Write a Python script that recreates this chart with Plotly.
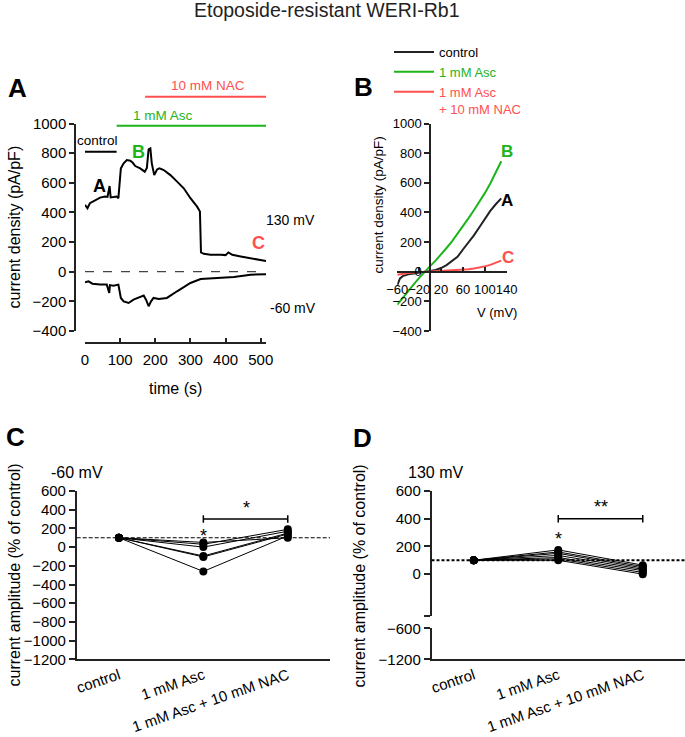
import plotly.graph_objects as go

W, H = 685, 737
FONT = "Liberation Sans, Arial, Helvetica, sans-serif"
BLACK = "#000000"
GREEN = "#1db41d"
RED = "#ff4f4f"
AX = "#222222"

# ---------------- Panel A: time course ----------------
t_130 = [0, 7, 14, 29, 43, 57, 64, 70, 73, 81, 90, 95, 102, 110, 119, 129, 136, 143, 157, 170, 176,
         181, 186, 190, 197, 205, 212, 224, 243, 262, 281, 300, 319, 327, 330, 338, 357, 386, 400,
         408, 419, 443, 471, 500, 519]
i_130 = [451, 428, 462, 484, 500, 507, 505, 578, 502, 504, 507, 496, 697, 731, 753, 749, 735, 713, 697,
         675, 700, 825, 832, 731, 652, 690, 697, 686, 652, 608, 563, 496, 439, 406, 130, 121, 114, 114,
         112, 130, 114, 103, 92, 81, 70]
t_m60 = [0, 10, 21, 43, 62, 69, 71, 81, 95, 102, 110, 124, 138, 152, 167, 174, 181, 188, 195, 210, 233,
         262, 300, 329, 376, 424, 471, 519]
i_m60 = [-72, -65, -81, -87, -87, -143, -90, -94, -87, -177, -200, -211, -188, -177, -161, -190, -233,
         -200, -177, -184, -177, -132, -76, -49, -45, -36, -20, -16]

app_names = ["control", "1 mM Asc", "10 mM NAC"]
app_start = [-14, 90, 171]
app_end = [90, 522, 531]
app_colors = [BLACK, GREEN, RED]

# ---------------- Panel B: I-V curves ----------------
v_mv = [-60, -55, -50, -40, -30, -20, -10, 0, 10, 20, 30, 40, 50, 60, 70, 80, 90, 100, 110, 120, 130]
iv_control = [-90, -45, -30, -18, -12, -8, -3, 5, 12, 25, 45, 70, 100, 150, 195, 245, 300, 355, 410, 455, 495]
iv_asc = [-222, -198, -175, -130, -85, -42, 0, 38, 75, 115, 160, 205, 255, 305, 360, 415, 470, 530, 595, 665, 745]
iv_asc_nac = [-20, -16, -13, -8, -5, -3, -1, 0, 2, 4, 6, 8, 10, 13, 17, 22, 28, 36, 46, 58, 75]

# ---------------- Panels C, D: normalized amplitudes ----------------
categories = ["control", "1 mM Asc", "1 mM Asc + 10 mM NAC"]
amp_m60 = [[100, 50, 100], [100, 30, 190], [100, 0, 170], [100, -95, 150], [100, -105, 140], [100, -260, 120]]
amp_130 = [[100, 175, 65], [100, 160, 55], [100, 150, 45], [100, 135, 35], [100, 120, 25], [100, 110, 12],
           [100, 100, 0]]
sig_c = {"y": 300, "half": 40, "label": "*", "single": "*"}
sig_d = {"y": 400, "half": 27, "label": "**", "single": "*"}


def px(x):
    return x / W


def py(y):
    return 1 - y / H


fig = go.Figure()

# Panel A traces
fig.add_trace(go.Scatter(x=t_130, y=i_130, mode="lines", line=dict(color=BLACK, width=2),
                         xaxis="x", yaxis="y", showlegend=False))
fig.add_trace(go.Scatter(x=t_m60, y=i_m60, mode="lines", line=dict(color=BLACK, width=2),
                         xaxis="x", yaxis="y", showlegend=False))

# Panel B traces
fig.add_trace(go.Scatter(x=v_mv, y=iv_control, mode="lines", line=dict(color="#222222", width=2),
                         xaxis="x2", yaxis="y2", name="control", legend="legend"))
fig.add_trace(go.Scatter(x=v_mv, y=iv_asc, mode="lines", line=dict(color=GREEN, width=2),
                         xaxis="x2", yaxis="y2",
                         name=f"<span style='color:{GREEN}'>1 mM Asc</span>", legend="legend"))
fig.add_trace(go.Scatter(x=v_mv, y=iv_asc_nac, mode="lines", line=dict(color=RED, width=2),
                         xaxis="x2", yaxis="y2",
                         name=f"<span style='color:{RED}'>1 mM Asc</span><br><span style='color:{RED}'>+ 10 mM NAC</span>",
                         legend="legend"))

# Panel C traces
xs = [0, 1, 2]
for cell in amp_m60:
    fig.add_trace(go.Scatter(x=xs, y=cell, mode="lines+markers", line=dict(color=BLACK, width=1),
                             marker=dict(color=BLACK, size=8), xaxis="x3", yaxis="y3", showlegend=False))
fig.add_trace(go.Scatter(x=[1, 1, 1, 2, 2, 2],
                         y=[sig_c["y"] - sig_c["half"], sig_c["y"] + sig_c["half"], sig_c["y"], sig_c["y"],
                            sig_c["y"] + sig_c["half"], sig_c["y"] - sig_c["half"]],
                         mode="lines", line=dict(color=BLACK, width=1.5), xaxis="x3", yaxis="y3",
                         showlegend=False))

# Panel D traces
for cell in amp_130:
    fig.add_trace(go.Scatter(x=xs, y=cell, mode="lines+markers", line=dict(color=BLACK, width=1),
                             marker=dict(color=BLACK, size=8), xaxis="x4", yaxis="y5", showlegend=False))
fig.add_trace(go.Scatter(x=[1, 1, 1, 2, 2, 2],
                         y=[sig_d["y"] - sig_d["half"], sig_d["y"] + sig_d["half"], sig_d["y"], sig_d["y"],
                            sig_d["y"] + sig_d["half"], sig_d["y"] - sig_d["half"]],
                         mode="lines", line=dict(color=BLACK, width=1.5), xaxis="x4", yaxis="y5",
                         showlegend=False))
# empty trace so the lower (broken) segment of the D axis exists as a subplot
fig.add_trace(go.Scatter(x=[None], y=[None], mode="lines", xaxis="x4", yaxis="y6", showlegend=False,
                         hoverinfo="skip"))

axbase = dict(showgrid=False, zeroline=False, showline=True, linecolor=AX, linewidth=1.5,
              tickcolor=AX, tickwidth=1.5, automargin=False)

# geometry
A_x = (85, 266)
A_y = (331, 123.5)
A_xr = [0, 515]
A_yr = [-400, 1000]
B_x = (397.3, 506.7)
B_xr = [-60, 140]

yB0 = A_y[0] + (0 - A_yr[0]) / (A_yr[1] - A_yr[0]) * (A_y[1] - A_y[0])
xB0 = B_x[0] + (0 - B_xr[0]) / (B_xr[1] - B_xr[0]) * (B_x[1] - B_x[0])

fig.update_layout(
    template="none",
    width=W, height=H, margin=dict(l=0, r=0, t=0, b=0, pad=0), autosize=False,
    paper_bgcolor="white", plot_bgcolor="rgba(0,0,0,0)",
    font=dict(family=FONT, color=BLACK, size=15),
    xaxis=dict(axbase, domain=[px(A_x[0]), px(A_x[1])], range=A_xr, anchor="free", position=py(342.7),
               tickvals=[0, 100, 200, 300, 400, 500], ticks="inside", ticklen=4, tickangle=0,
               tickfont=dict(size=15), ticklabelstandoff=4),
    yaxis=dict(axbase, domain=[py(A_y[0]), py(A_y[1])], range=A_yr, anchor="free", position=px(75),
               tickvals=list(range(-400, 1001, 200)), ticks="outside", ticklen=5, tickfont=dict(size=15)),
    xaxis2=dict(axbase, domain=[px(B_x[0]), px(B_x[1])], range=B_xr, anchor="free", position=py(yB0),
                tickvals=[-60, -20, 20, 60, 100, 140], ticks="inside", ticklen=4, tickangle=0,
                tickfont=dict(size=13), ticklabelstandoff=6),
    yaxis2=dict(axbase, domain=[py(A_y[0]), py(A_y[1])], range=A_yr, anchor="free", position=px(xB0),
                tickvals=list(range(-400, 1001, 200)), ticks="outside", ticklen=5, tickfont=dict(size=13)),
    xaxis3=dict(axbase, domain=[px(76.7), px(330)], range=[-0.5, 2.5], anchor="y3",
                tickvals=xs, ticktext=categories, ticks="", tickangle=-19, tickfont=dict(size=15)),
    yaxis3=dict(axbase, domain=[py(659.3), py(491)], range=[-1200, 600], anchor="x3",
                tickvals=list(range(-1200, 601, 200)), ticks="outside", ticklen=6, tickfont=dict(size=15)),
    xaxis4=dict(axbase, domain=[px(431.5), px(685)], range=[-0.5, 2.5], anchor="y6",
                tickvals=xs, ticktext=categories, ticks="", tickangle=-19, tickfont=dict(size=15)),
    yaxis5=dict(axbase, domain=[py(615.7), py(491)], range=[-300, 600], anchor="x4",
                tickvals=[600, 400, 200, 0, -300], ticktext=["600", "400", "200", "0", ""],
                ticks="outside", ticklen=6, tickfont=dict(size=15)),
    yaxis6=dict(axbase, domain=[py(659.3), py(628.3)], range=[-1200, -600], anchor="x4",
                tickvals=[-1200, -600], ticks="outside", ticklen=6, tickfont=dict(size=15)),
    legend=dict(x=px(389), y=py(37), xanchor="left", yanchor="top", bgcolor="rgba(0,0,0,0)",
                font=dict(size=13, family=FONT), valign="top", tracegroupgap=0, itemwidth=40),
    showlegend=True,
)

shapes = []
# application bars
bar_y = [151.7, 125.7, 96.7]
for s, e, c, yy in zip(app_start, app_end, app_colors, bar_y):
    shapes.append(dict(type="line", xref="x", yref="paper", x0=s, x1=e, y0=py(yy), y1=py(yy),
                       line=dict(color=c, width=2)))
shapes.append(dict(type="line", xref="x domain", yref="y", x0=0, x1=0.985, y0=0, y1=0,
                   line=dict(color="#444444", width=1.2, dash="dash")))
shapes.append(dict(type="line", xref="x3 domain", yref="y3", x0=0, x1=1, y0=100, y1=100,
                   line=dict(color=BLACK, width=1, dash="4px,2px")))
shapes.append(dict(type="line", xref="x4 domain", yref="y5", x0=0, x1=1, y0=100, y1=100,
                   line=dict(color=BLACK, width=2, dash="3px,2px")))
fig.update_layout(shapes=shapes)


def ann(text, x, y, size=15, color=BLACK, bold=False, angle=0, xanchor="center"):
    t = f"<b>{text}</b>" if bold else text
    return dict(text=t, x=px(x), y=py(y), xref="paper", yref="paper", showarrow=False,
                font=dict(size=size, color=color, family=FONT), textangle=angle,
                xanchor=xanchor, yanchor="middle")


annotations = [
    ann("Etoposide-resistant WERI-Rb1", 326.5, 10, size=19.5, color="#222222"),
    ann("A", 17, 88, size=26, bold=True),
    ann("B", 363, 87, size=26, bold=True),
    ann("C", 15, 437, size=26, bold=True),
    ann("D", 362, 438, size=26, bold=True),
    # panel A
    ann("current density (pA/pF)", 13.5, 227, size=16, angle=-90),
    ann("time (s)", 175, 388, size=16),
    ann(app_names[0], 97, 140, size=13.5),
    ann(app_names[1], 163, 115, size=13.5, color=GREEN),
    ann(app_names[2], 208, 85, size=13.5, color=RED),
    ann("A", 100, 186, size=18, bold=True),
    ann("B", 138, 152, size=18, bold=True, color=GREEN),
    ann("C", 258, 243, size=18, bold=True, color=RED),
    ann("130 mV", 290, 220, size=14),
    ann("-60 mV", 293, 308, size=14),
    # panel B
    ann("current density (pA/pF)", 378.5, 205, size=13.5, angle=-90),
    ann("V (mV)", 497, 313, size=13),
    ann("B", 507, 152, size=17, bold=True, color=GREEN),
    ann("A", 507, 201, size=17, bold=True),
    ann("C", 508, 258, size=17, bold=True, color=RED),
    # panel C
    ann("current amplitude (% of control)", 13.5, 575, size=16, angle=-90),
    ann("-60 mV", 77, 472, size=16),
    ann(sig_c["single"], 203, 536, size=18),
    ann(sig_c["label"], 246, 508, size=18),
    # panel D
    ann("current amplitude (% of control)", 358.5, 576, size=16, angle=-90),
    ann("130 mV", 435, 472, size=16),
    ann(sig_d["single"], 558, 539, size=18),
    ann(sig_d["label"], 601, 507, size=18),
]
fig.update_layout(annotations=annotations)

fig.write_html("out.html", config={"displayModeBar": False},
               post_script="document.body.style.margin='0';document.body.style.padding='0';")
